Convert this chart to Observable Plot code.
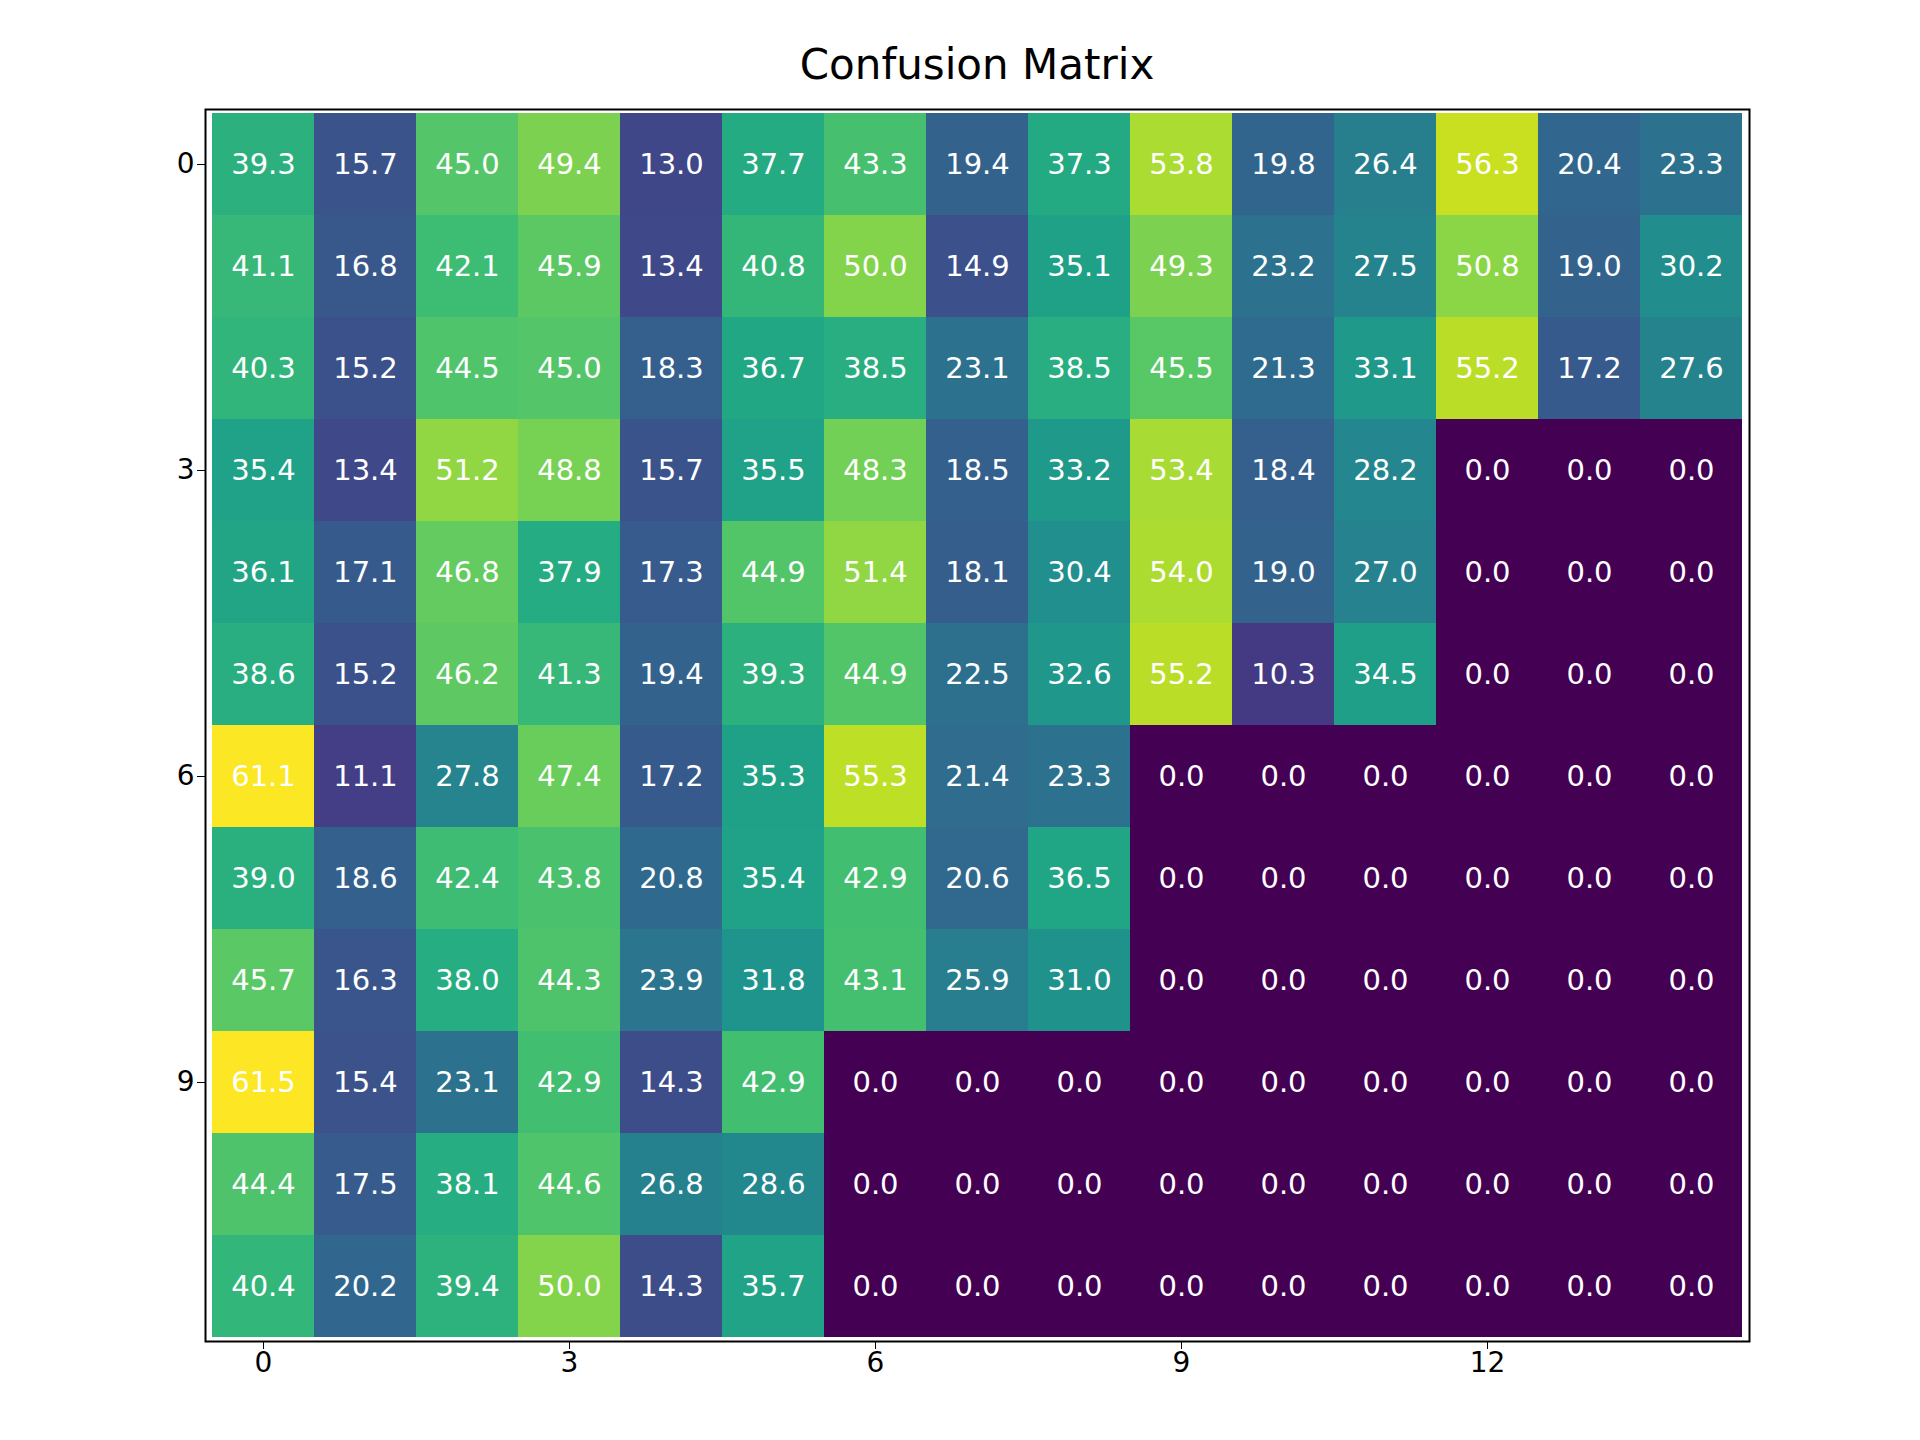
<!DOCTYPE html>
<html>
<head>
<meta charset="utf-8">
<script src="https://cdn.jsdelivr.net/npm/d3@7"></script>
<script src="https://cdn.jsdelivr.net/npm/@observablehq/plot@0.6"></script>
<style>
  body { margin: 0; background: white; font-family: "DejaVu Sans", sans-serif; }
  #wrap { position: relative; width: 1920px; height: 1440px; }
  #title { position: absolute; top: 40px; left: 205px; width: 1544px; text-align: center; font-size: 42px; }
</style>
</head>
<body>
<div id="wrap">
  <div id="title">Confusion Matrix</div>
  <div id="chart"></div>
</div>
<script>
const row0  = [39.3,15.7,45.0,49.4,13.0,37.7,43.3,19.4,37.3,53.8,19.8,26.4,56.3,20.4,23.3]
const row1  = [41.1,16.8,42.1,45.9,13.4,40.8,50.0,14.9,35.1,49.3,23.2,27.5,50.8,19.0,30.2]
const row2  = [40.3,15.2,44.5,45.0,18.3,36.7,38.5,23.1,38.5,45.5,21.3,33.1,55.2,17.2,27.6]
const row3  = [35.4,13.4,51.2,48.8,15.7,35.5,48.3,18.5,33.2,53.4,18.4,28.2,0,0,0]
const row4  = [36.1,17.1,46.8,37.9,17.3,44.9,51.4,18.1,30.4,54.0,19.0,27.0,0,0,0]
const row5  = [38.6,15.2,46.2,41.3,19.4,39.3,44.9,22.5,32.6,55.2,10.3,34.5,0,0,0]
const row6  = [61.1,11.1,27.8,47.4,17.2,35.3,55.3,21.4,23.3,0,0,0,0,0,0]
const row7  = [39.0,18.6,42.4,43.8,20.8,35.4,42.9,20.6,36.5,0,0,0,0,0,0]
const row8  = [45.7,16.3,38.0,44.3,23.9,31.8,43.1,25.9,31.0,0,0,0,0,0,0]
const row9  = [61.5,15.4,23.1,42.9,14.3,42.9,0,0,0,0,0,0,0,0,0]
const row10 = [44.4,17.5,38.1,44.6,26.8,28.6,0,0,0,0,0,0,0,0,0]
const row11 = [40.4,20.2,39.4,50.0,14.3,35.7,0,0,0,0,0,0,0,0,0]
const rows = [row0,row1,row2,row3,row4,row5,row6,row7,row8,row9,row10,row11]
const xTicks = [0,3,6,9,12]
const yTicks = [0,3,6,9]

const data = rows.flatMap((r, i) => r.map((v, j) => ({row: i, col: j, value: v})))

const chart = Plot.plot({
  width: 1920,
  height: 1440,
  marginLeft: 205,
  marginRight: 171,
  marginTop: 109,
  marginBottom: 99,
  style: {fontFamily: "DejaVu Sans", fontSize: "28px", background: "white"},
  x: {type: "band", domain: d3.range(15), padding: 0, ticks: xTicks, label: null, tickSize: 8},
  y: {type: "band", domain: d3.range(12), padding: 0, ticks: yTicks, label: null, tickSize: 8},
  color: {type: "linear", scheme: "viridis", domain: [0, 61.5]},
  marks: [
    Plot.cell(data, {x: "col", y: "row", fill: "value", inset: 0}),
    Plot.text(data, {x: "col", y: "row", text: d => d.value.toFixed(1), fill: "white", fontSize: 29}),
    Plot.frame({stroke: "black", strokeWidth: 2})
  ]
})

document.getElementById("chart").append(chart)
</script>
</body>
</html>
